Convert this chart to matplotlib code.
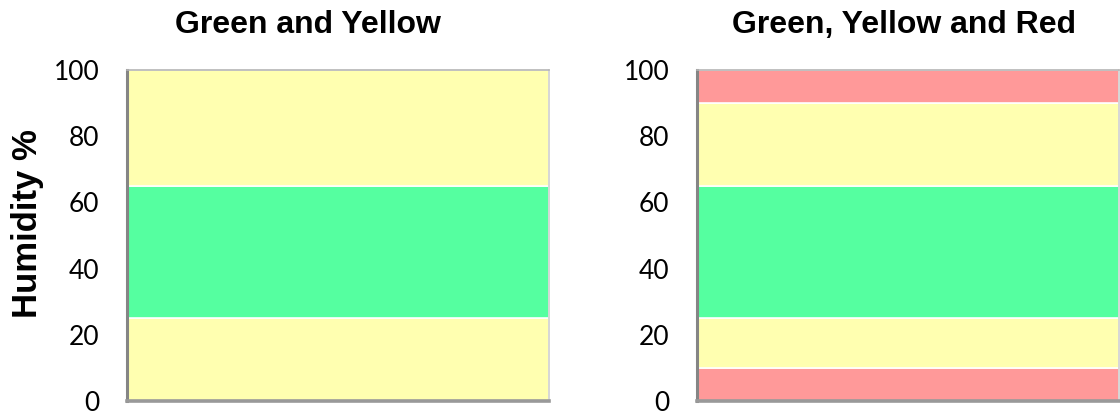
import numpy as np
import matplotlib.pyplot as plt

# band edges (humidity %) and colours, bottom to top
left_edges = [0, 25, 65, 100]
left_colors = ['#FFFFB0', '#55FFA0', '#FFFFB0']
right_edges = [0, 10, 25, 65, 90, 100]
right_colors = ['#FF9999', '#FFFFB0', '#55FFA0', '#FFFFB0', '#FF9999']

titles = ['Green and Yellow', 'Green, Yellow and Red']
y_ticks = [0, 20, 40, 60, 80, 100]
y_label = 'Humidity %'

fig = plt.figure(figsize=(11.2, 4.17), dpi=100)
ax1 = fig.add_axes([0.1134, 0.0384, 0.3768, 0.7936])
ax2 = fig.add_axes([0.6223, 0.0384, 0.3768, 0.7936])


def draw_bands(ax, edges, colors):
    lows = np.array(edges[:-1])
    heights = np.diff(edges)
    ax.bar(np.zeros(len(lows)), heights, bottom=lows, width=1.0,
           color=colors, edgecolor='white', linewidth=1.2)
    ax.set_xlim(-0.5, 0.5)
    ax.set_ylim(0, 100)
    ax.set_xticks([])
    ax.set_yticks(y_ticks)
    ax.tick_params(axis='y', length=0, pad=20, labelsize=19)
    for lab in ax.get_yticklabels():
        lab.set_fontfamily('Lato')
    ax.spines['left'].set_color('#858585')
    ax.spines['left'].set_linewidth(2.2)
    ax.spines['bottom'].set_color('#999999')
    ax.spines['bottom'].set_linewidth(2.6)
    ax.spines['top'].set_color('#B5B5B5')
    ax.spines['top'].set_linewidth(1.2)
    ax.spines['right'].set_color('#D0D0D0')
    ax.spines['right'].set_linewidth(1.2)


draw_bands(ax1, left_edges, left_colors)
draw_bands(ax2, right_edges, right_colors)

fig.text(308 / 1120, 1 - 25 / 417, titles[0], ha='center', va='center',
         fontsize=23, fontweight='bold', family='Liberation Sans')
fig.text(904 / 1120, 1 - 25 / 417, titles[1], ha='center', va='center',
         fontsize=23, fontweight='bold', family='Liberation Sans')
fig.text(28 / 1120, 1 - 224 / 417, y_label, ha='center', va='center',
         rotation=90, fontsize=25, fontweight='bold', family='Liberation Sans')

fig.savefig('out.png', dpi=100)
